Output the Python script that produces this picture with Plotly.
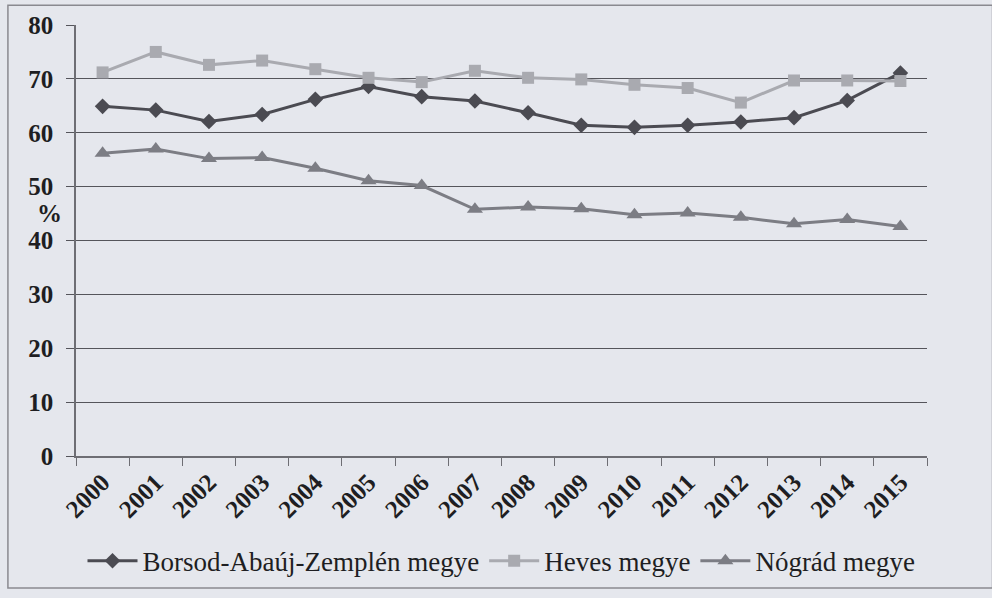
import plotly.graph_objects as go

years = [str(y) for y in range(2000, 2016)]
borsod = [64.9, 64.2, 62.1, 63.4, 66.2, 68.6, 66.7, 65.9, 63.7, 61.4, 61.0, 61.4, 62.0, 62.8, 66.0, 71.1]
heves = [71.2, 75.0, 72.6, 73.4, 71.8, 70.2, 69.4, 71.5, 70.2, 69.9, 68.9, 68.3, 65.6, 69.7, 69.7, 69.6]
nograd = [56.2, 57.0, 55.2, 55.4, 53.4, 51.1, 50.2, 45.8, 46.2, 45.9, 44.8, 45.1, 44.3, 43.1, 43.9, 42.6]
names = ["Borsod-Abaúj-Zemplén megye", "Heves megye", "Nógrád megye"]

serif = "Liberation Serif"
bg = "#e5e7ed"

fig = go.Figure()
fig.add_trace(go.Scatter(x=years, y=borsod, name=names[0], mode="lines+markers",
                         line=dict(color="#4b4b52", width=3),
                         marker=dict(symbol="diamond", size=12, color="#4b4b52")))
fig.add_trace(go.Scatter(x=years, y=heves, name=names[1], mode="lines+markers",
                         line=dict(color="#a9aab0", width=3),
                         marker=dict(symbol="square", size=12, color="#a9aab0")))
fig.add_trace(go.Scatter(x=years, y=nograd, name=names[2], mode="lines+markers",
                         line=dict(color="#7c7d84", width=3),
                         marker=dict(symbol="triangle-up", size=14, color="#7c7d84")))

fig.update_layout(
    width=992, height=598,
    paper_bgcolor=bg, plot_bgcolor=bg,
    margin=dict(l=76, r=65, t=25, b=139),
    font=dict(family=serif, color="#1e1e22"),
    showlegend=True,
    legend=dict(orientation="h", x=0.5, xanchor="center", y=-0.244, yanchor="middle",
                font=dict(family=serif, size=27, color="#1e1e22"),
                bgcolor="rgba(0,0,0,0)", itemwidth=50, tracegroupgap=0),
    xaxis=dict(type="category", range=[-0.5, 15.5], showgrid=False, automargin=False,
               showline=True, linecolor="#6e6e74", linewidth=1.5,
               ticks="outside", tickson="boundaries", ticklen=8, tickcolor="#6e6e74",
               tickangle=-45,
               tickfont=dict(family=serif, size=25, color="#1e1e22", weight="bold")),
    yaxis=dict(range=[0, 80], dtick=10, showgrid=True, gridcolor="#55555b", gridwidth=1.2,
               zeroline=False, showline=True, linecolor="#6e6e74", linewidth=1.5,
               automargin=False, ticklabelstandoff=8,
               ticks="outside", ticklen=8, tickcolor="#55555b",
               tickfont=dict(family=serif, size=25, color="#1e1e22", weight="bold")),
    shapes=[dict(type="rect", xref="paper", yref="paper",
                 x0=-0.080, x1=1.077, y0=-0.306, y1=1.046,
                 line=dict(color="#8a8a90", width=1.5))],
    annotations=[dict(text="<b>%</b>", xref="paper", yref="paper",
                      x=(35 - 76) / 851, y=(459 - 215) / 434,
                      showarrow=False, font=dict(family=serif, size=25, color="#1e1e22"))],
)

fig.write_html("out.html", config={"displayModeBar": False},
               post_script="document.body.style.margin='0';document.body.style.overflow='hidden';")
